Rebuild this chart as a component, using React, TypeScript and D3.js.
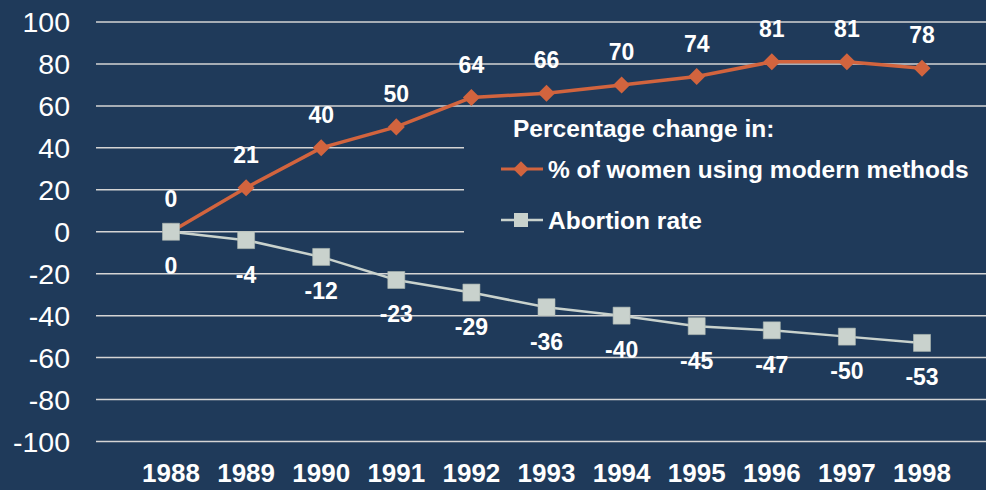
import { useRef, useEffect } from 'react'
import * as d3 from 'd3'

const years = ['1988', '1989', '1990', '1991', '1992', '1993', '1994', '1995', '1996', '1997', '1998']
const modernMethods = [0, 21, 40, 50, 64, 66, 70, 74, 81, 81, 78]
const abortionRate = [0, -4, -12, -23, -29, -36, -40, -45, -47, -50, -53]
const yTicks = [-100, -80, -60, -40, -20, 0, 20, 40, 60, 80, 100]

const legendTitle = 'Percentage change in:'
const seriesNames = ['% of women using modern methods', 'Abortion rate']

const W = 986
const H = 490
const BG = '#1f3a5a'
const ORANGE = '#d2643e'
const GRAY = '#c9d2cd'
const FONT = '"Liberation Sans", Arial, sans-serif'

export default function App() {
  const svgRef = useRef<SVGSVGElement>(null)

  useEffect(() => {
    if (!svgRef.current) return
    const svg = d3.select(svgRef.current)
    svg.selectAll('*').remove()

    svg.append('rect').attr('width', W).attr('height', H).attr('fill', BG)

    const x = d3.scalePoint<string>().domain(years).range([171, 922])
    const y = d3.scaleLinear().domain([-100, 100]).range([441.5, 22])

    // gridlines
    svg.append('g')
      .selectAll('line')
      .data(yTicks)
      .join('line')
      .attr('x1', 96).attr('x2', W)
      .attr('y1', (d) => y(d)).attr('y2', (d) => y(d))
      .attr('stroke', '#d4d4d4')
      .attr('stroke-width', 1.5)

    // y tick labels
    svg.append('g')
      .selectAll('text')
      .data(yTicks)
      .join('text')
      .attr('x', 70)
      .attr('y', (d) => y(d) + 10)
      .attr('text-anchor', 'end')
      .attr('fill', '#ffffff')
      .attr('font-size', 28.5)
      .attr('font-family', FONT)
      .text((d) => String(d))

    // x labels
    svg.append('g')
      .selectAll('text')
      .data(years)
      .join('text')
      .attr('x', (d) => x(d) ?? 0)
      .attr('y', 482)
      .attr('text-anchor', 'middle')
      .attr('fill', '#ffffff')
      .attr('font-size', 26)
      .attr('font-weight', 'bold')
      .attr('font-family', FONT)
      .text((d) => d)

    // legend box (hides gridlines behind it)
    const lg = svg.append('g')
    lg.append('rect').attr('x', 464).attr('y', 114).attr('width', W - 464).attr('height', 136).attr('fill', BG)
    lg.append('text')
      .attr('x', 513).attr('y', 137)
      .attr('fill', '#fff').attr('font-size', 24.5).attr('font-weight', 'bold').attr('font-family', FONT)
      .text(legendTitle)

    const legendRows = [
      { name: seriesNames[0], color: ORANGE, ly: 169, size: 120, rot: 45, lw: 3 },
      { name: seriesNames[1], color: GRAY, ly: 220, size: 196, rot: 0, lw: 2.5 },
    ]
    legendRows.forEach((r) => {
      lg.append('line').attr('x1', 501).attr('x2', 543).attr('y1', r.ly).attr('y2', r.ly)
        .attr('stroke', r.color).attr('stroke-width', r.lw)
      lg.append('path').attr('d', d3.symbol(d3.symbolSquare, r.size)())
        .attr('transform', `translate(521,${r.ly}) rotate(${r.rot})`).attr('fill', r.color)
      lg.append('text').attr('x', 548).attr('y', r.ly + 9)
        .attr('fill', '#fff').attr('font-size', 24.5).attr('font-weight', 'bold').attr('font-family', FONT)
        .text(r.name)
    })

    const line = d3.line<number>().x((_, i) => x(years[i]) ?? 0).y((d) => y(d))

    // abortion rate series
    svg.append('path').datum(abortionRate).attr('d', line)
      .attr('fill', 'none').attr('stroke', GRAY).attr('stroke-width', 2.5)

    // modern methods series
    svg.append('path').datum(modernMethods).attr('d', line)
      .attr('fill', 'none').attr('stroke', ORANGE).attr('stroke-width', 3.5)

    svg.append('g').selectAll('path')
      .data(modernMethods)
      .join('path')
      .attr('d', d3.symbol(d3.symbolSquare, 145)())
      .attr('transform', (d, i) => `translate(${x(years[i])},${y(d)}) rotate(45)`)
      .attr('fill', ORANGE)

    svg.append('g').selectAll('path')
      .data(abortionRate)
      .join('path')
      .attr('d', d3.symbol(d3.symbolSquare, 289)())
      .attr('transform', (d, i) => `translate(${x(years[i])},${y(d)})`)
      .attr('fill', GRAY)
      .attr('stroke', '#aeb8b2').attr('stroke-width', 0.6)

    // data labels
    svg.append('g').selectAll('text')
      .data(modernMethods)
      .join('text')
      .attr('x', (_, i) => x(years[i]) ?? 0)
      .attr('y', (d) => y(d) - 25)
      .attr('text-anchor', 'middle')
      .attr('fill', '#fff').attr('font-size', 23).attr('font-weight', 'bold').attr('font-family', FONT)
      .text((d) => String(d))

    svg.append('g').selectAll('text')
      .data(abortionRate)
      .join('text')
      .attr('x', (_, i) => x(years[i]) ?? 0)
      .attr('y', (d) => y(d) + 42.5)
      .attr('text-anchor', 'middle')
      .attr('fill', '#fff').attr('font-size', 23).attr('font-weight', 'bold').attr('font-family', FONT)
      .text((d) => String(d))
  }, [])

  return (
    <svg
      ref={svgRef}
      width={W}
      height={H}
      style={{ position: 'absolute', left: 0, top: 0, display: 'block' }}
    />
  )
}
